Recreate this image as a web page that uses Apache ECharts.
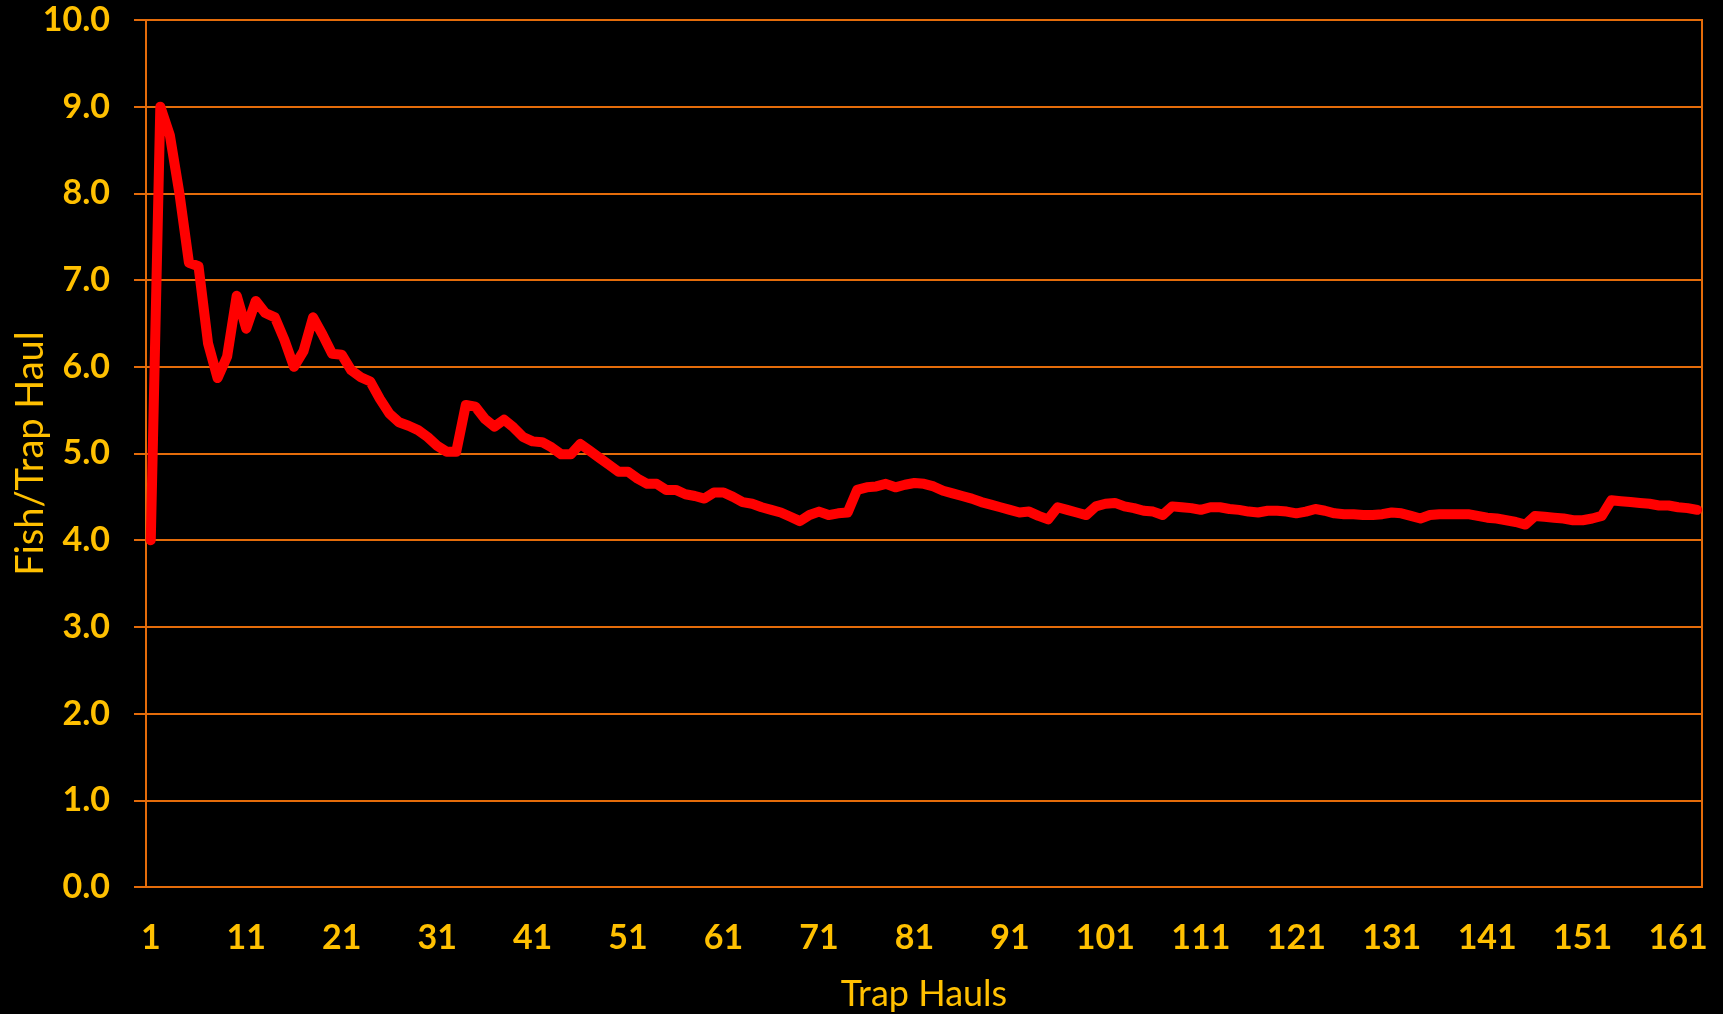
<!DOCTYPE html>
<html>
<head>
<meta charset="utf-8">
<title>Fish/Trap Haul</title>
<script src="https://cdn.jsdelivr.net/npm/echarts@6/dist/echarts.min.js"></script>
<style>
    html, body { margin: 0; padding: 0; background: #000; }
    #haulChart { width: 1723px; height: 1014px; }
</style>
</head>
<body>
<div id="haulChart"></div>
<script>
// running average of fish per trap haul, one value per haul
var hauls_1_40 = [4.0, 9.0, 8.67, 8.0, 7.2, 7.16, 6.27, 5.87, 6.12, 6.82,
    6.44, 6.76, 6.62, 6.57, 6.31, 6.0, 6.18, 6.57, 6.37, 6.15,
    6.14, 5.96, 5.88, 5.83, 5.63, 5.46, 5.36, 5.32, 5.27, 5.19,
    5.09, 5.02, 5.02, 5.56, 5.54, 5.40, 5.31, 5.39, 5.30, 5.19];
var hauls_41_80 = [5.14, 5.13, 5.07, 4.99, 4.99, 5.11, 5.03, 4.95, 4.87, 4.79,
    4.79, 4.71, 4.65, 4.65, 4.58, 4.58, 4.53, 4.51, 4.48, 4.55,
    4.55, 4.50, 4.44, 4.42, 4.38, 4.35, 4.32, 4.27, 4.22, 4.29,
    4.33, 4.29, 4.31, 4.32, 4.58, 4.61, 4.62, 4.65, 4.61, 4.64];
var hauls_81_120 = [4.66, 4.65, 4.62, 4.57, 4.54, 4.51, 4.48, 4.44, 4.41, 4.38,
    4.35, 4.32, 4.33, 4.28, 4.24, 4.38, 4.35, 4.32, 4.29, 4.39,
    4.42, 4.43, 4.39, 4.37, 4.34, 4.33, 4.29, 4.39, 4.38, 4.37,
    4.35, 4.38, 4.38, 4.36, 4.35, 4.33, 4.32, 4.34, 4.34, 4.33];
var hauls_121_163 = [4.31, 4.33, 4.36, 4.34, 4.31, 4.30, 4.30, 4.29, 4.29, 4.30,
    4.32, 4.31, 4.28, 4.25, 4.29, 4.30, 4.30, 4.30, 4.30, 4.28,
    4.26, 4.25, 4.23, 4.21, 4.18, 4.28, 4.27, 4.26, 4.25, 4.23,
    4.23, 4.25, 4.28, 4.46, 4.45, 4.44, 4.43, 4.42, 4.40, 4.40,
    4.38, 4.37, 4.35];
var yTicks = [0, 1, 2, 3, 4, 5, 6, 7, 8, 9, 10];

var haul_chart = {
    orange : '#E46C0A',
    gold : '#FFC000',
    font : 'Lato',
    init : function() {
        var values = hauls_1_40.concat(hauls_41_80, hauls_81_120, hauls_121_163);
        var categories = new Array();
        for (var i = 1; i <= values.length; i++) {
            categories.push(String(i));
        }
        this.draw(categories, values);
    },
    draw : function(categories, values) {
        var chart = echarts.init(document.getElementById('haulChart'));
        var orange = this.orange, gold = this.gold, font = this.font;
        var option = {
            backgroundColor : '#000',
            animation : false,
            grid : {
                left : 146,
                right : 21,
                top : 20,
                bottom : 127,
                outerBoundsMode : 'none',
                containLabel : false,
                show : true,
                borderColor : orange,
                borderWidth : 2,
                backgroundColor : 'transparent'
            },
            xAxis : {
                type : 'category',
                data : categories,
                boundaryGap : true,
                name : 'Trap Hauls',
                nameLocation : 'middle',
                nameGap : 89,
                nameTextStyle : { color : gold, fontFamily : font, fontSize : 36 },
                axisLine : { lineStyle : { color : orange, width : 2 } },
                axisTick : { interval : 4, length : 11, lineStyle : { color : orange, width : 2 } },
                axisLabel : {
                    interval : 9,
                    margin : 34,
                    color : gold,
                    fontFamily : font,
                    fontWeight : 'bold',
                    fontSize : 34
                },
                splitLine : { show : false }
            },
            yAxis : {
                type : 'value',
                min : yTicks[0],
                max : yTicks[yTicks.length - 1],
                interval : 1,
                name : 'Fish/Trap Haul',
                nameLocation : 'middle',
                nameMoveOverlap : false,
                nameGap : 96,
                nameTextStyle : { color : gold, fontFamily : font, fontSize : 38 },
                axisLine : { show : true, lineStyle : { color : orange, width : 2 } },
                axisTick : { show : true, length : 12, lineStyle : { color : orange, width : 2 } },
                axisLabel : {
                    margin : 36,
                    color : gold,
                    fontFamily : font,
                    fontWeight : 'bold',
                    fontSize : 34,
                    formatter : function(value) {
                        return value.toFixed(1);
                    }
                },
                splitLine : { lineStyle : { color : orange, width : 2 } }
            },
            series : [ {
                type : 'line',
                data : values,
                symbol : 'none',
                smooth : false,
                lineStyle : { color : '#FF0000', width : 10, join : 'round', cap : 'round' }
            } ]
        };
        chart.setOption(option);
    }
};

haul_chart.init();
</script>
</body>
</html>
